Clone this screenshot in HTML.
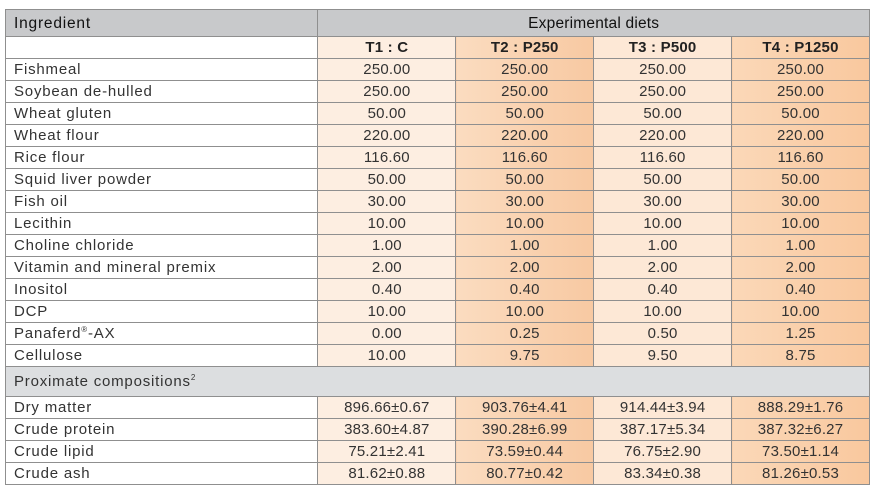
<!DOCTYPE html><html><head><style>
body{margin:0;background:#fff;width:878px;height:492px;overflow:hidden;font-family:"Liberation Sans",sans-serif;}
table{position:absolute;left:5px;top:9px;border-collapse:collapse;width:865px;font-size:15px;color:#333;}
td{border:1px solid #8f8f8f;padding:0 8px;height:21px;line-height:21px;text-align:center;letter-spacing:0.2px}
td.l{text-align:left;letter-spacing:0.8px}
.h td{background:#c8c9cb;height:26px;color:#111;font-size:15.5px}
.p td{background:#dcdee0;height:29px}
.c1{background:#fdeee1}.c2{background:linear-gradient(90deg,#fbdcc0,#f8c9a2)}.c3{background:#fde8d6}.c4{background:linear-gradient(90deg,#fbd8b8,#f9c89e)}
.b td{font-weight:bold;color:#222}
</style></head><body><table>
<colgroup><col style="width:313px"><col style="width:138px"><col style="width:138px"><col style="width:138px"><col style="width:138px"></colgroup>
<tr class="h"><td class="l">Ingredient</td><td colspan="4">Experimental diets</td></tr>
<tr class="b"><td></td><td class="c1">T1 : C</td><td class="c2">T2 : P250</td><td class="c3">T3 : P500</td><td class="c4">T4 : P1250</td></tr>
<tr><td class="l">Fishmeal</td><td class="c1">250.00</td><td class="c2">250.00</td><td class="c3">250.00</td><td class="c4">250.00</td></tr>
<tr><td class="l">Soybean de-hulled</td><td class="c1">250.00</td><td class="c2">250.00</td><td class="c3">250.00</td><td class="c4">250.00</td></tr>
<tr><td class="l">Wheat gluten</td><td class="c1">50.00</td><td class="c2">50.00</td><td class="c3">50.00</td><td class="c4">50.00</td></tr>
<tr><td class="l">Wheat flour</td><td class="c1">220.00</td><td class="c2">220.00</td><td class="c3">220.00</td><td class="c4">220.00</td></tr>
<tr><td class="l">Rice flour</td><td class="c1">116.60</td><td class="c2">116.60</td><td class="c3">116.60</td><td class="c4">116.60</td></tr>
<tr><td class="l">Squid liver powder</td><td class="c1">50.00</td><td class="c2">50.00</td><td class="c3">50.00</td><td class="c4">50.00</td></tr>
<tr><td class="l">Fish oil</td><td class="c1">30.00</td><td class="c2">30.00</td><td class="c3">30.00</td><td class="c4">30.00</td></tr>
<tr><td class="l">Lecithin</td><td class="c1">10.00</td><td class="c2">10.00</td><td class="c3">10.00</td><td class="c4">10.00</td></tr>
<tr><td class="l">Choline chloride</td><td class="c1">1.00</td><td class="c2">1.00</td><td class="c3">1.00</td><td class="c4">1.00</td></tr>
<tr><td class="l">Vitamin and mineral premix</td><td class="c1">2.00</td><td class="c2">2.00</td><td class="c3">2.00</td><td class="c4">2.00</td></tr>
<tr><td class="l">Inositol</td><td class="c1">0.40</td><td class="c2">0.40</td><td class="c3">0.40</td><td class="c4">0.40</td></tr>
<tr><td class="l">DCP</td><td class="c1">10.00</td><td class="c2">10.00</td><td class="c3">10.00</td><td class="c4">10.00</td></tr>
<tr><td class="l">Panaferd<sup style="font-size:8px;line-height:0">®</sup>-AX</td><td class="c1">0.00</td><td class="c2">0.25</td><td class="c3">0.50</td><td class="c4">1.25</td></tr>
<tr><td class="l">Cellulose</td><td class="c1">10.00</td><td class="c2">9.75</td><td class="c3">9.50</td><td class="c4">8.75</td></tr>
<tr class="p"><td class="l" colspan="5">Proximate compositions<sup style="font-size:8px;line-height:0">2</sup></td></tr>
<tr><td class="l">Dry matter</td><td class="c1">896.66±0.67</td><td class="c2">903.76±4.41</td><td class="c3">914.44±3.94</td><td class="c4">888.29±1.76</td></tr>
<tr><td class="l">Crude protein</td><td class="c1">383.60±4.87</td><td class="c2">390.28±6.99</td><td class="c3">387.17±5.34</td><td class="c4">387.32±6.27</td></tr>
<tr><td class="l">Crude lipid</td><td class="c1">75.21±2.41</td><td class="c2">73.59±0.44</td><td class="c3">76.75±2.90</td><td class="c4">73.50±1.14</td></tr>
<tr><td class="l">Crude ash</td><td class="c1">81.62±0.88</td><td class="c2">80.77±0.42</td><td class="c3">83.34±0.38</td><td class="c4">81.26±0.53</td></tr>
</table></body></html>
